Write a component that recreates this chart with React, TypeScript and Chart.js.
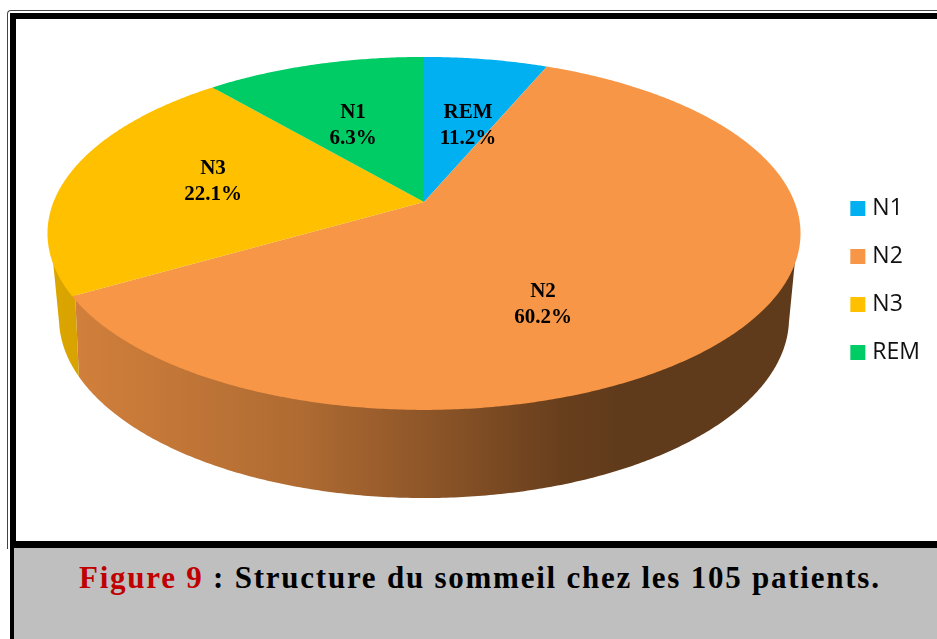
import React, { useEffect, useRef } from "react";
import { Chart, registerables } from "chart.js";

Chart.register(...registerables);

// ---- data ----
const categories = ["N1", "N2", "N3", "REM"];
const sleepShare = [6.3, 60.2, 22.1, 11.2];
const sliceColors = ["#00B0F0", "#F79646", "#FFC000", "#00CC66"];
// Text printed on each slice in the source figure (it does not follow the legend for N1/REM).
const sliceLabelNames = ["REM", "N2", "N3", "N1"];
const sliceLabelValues = ["11.2%", "60.2%", "22.1%", "6.3%"];

// ---- style / geometry (page pixels) ----
const CANVAS_LEFT = 16;
const CANVAS_TOP = 19;
const CANVAS_W = 921;
const CANVAS_H = 521;
const CENTER_X = 424;
const TOP_FACE = { apexY: 202, a: 170.9, c: 0.178, d: 370.5 };
const BOTTOM_FACE = { apexY: 280.2, a: 172.1, c: 0.21, d: 356.9 };
const LABEL_ANCHORS = [
  [468, 126],
  [543, 304.5],
  [213, 182],
  [353, 126],
];
// wall light falloff along the page x axis: [x, brightness]
const WALL_SHADE = [
  [60, 0.86],
  [300, 0.71],
  [430, 0.57],
  [560, 0.42],
  [620, 0.39],
  [800, 0.39],
];

type Face = typeof TOP_FACE;

function project(face: Face, theta: number, r = 1) {
  const u = Math.sin(theta) * r;
  const v = Math.cos(theta) * r;
  const w = 1 + face.c * v;
  return { x: CENTER_X + (face.d * u) / w - CANVAS_LEFT, y: face.apexY - (face.a * v) / w - CANVAS_TOP };
}

function shaded(hex: string, k: number) {
  const n = parseInt(hex.slice(1), 16);
  return `rgb(${Math.round(((n >> 16) & 255) * k)},${Math.round(((n >> 8) & 255) * k)},${Math.round((n & 255) * k)})`;
}

const pie3d = {
  id: "pie3d",
  beforeDatasetDraw(chart: any) {
    const { ctx } = chart;
    const arcs = chart.getDatasetMeta(0).data;
    const step = Math.PI / 360;
    const wallFrom = 0.7;
    const wallTo = 2 * Math.PI - 0.7;
    ctx.save();
    arcs.forEach((arc: any, i: number) => {
      const from = Math.max(arc.startAngle + Math.PI / 2, wallFrom);
      const to = Math.min(arc.endAngle + Math.PI / 2, wallTo);
      if (to <= from) return;
      const x0 = WALL_SHADE[0][0];
      const x1 = WALL_SHADE[WALL_SHADE.length - 1][0];
      const g = ctx.createLinearGradient(x0 - CANVAS_LEFT, 0, x1 - CANVAS_LEFT, 0);
      WALL_SHADE.forEach(([x, k]) => g.addColorStop((x - x0) / (x1 - x0), shaded(sliceColors[i], k)));
      ctx.beginPath();
      for (let t = from; t < to; t += step) {
        const e = Math.min(t + step, to);
        // union of equally-wound quads, so the wall is one seamless fill
        const quad = [
          project(TOP_FACE, t, 0.992),
          project(TOP_FACE, e, 0.992),
          project(BOTTOM_FACE, e),
          project(BOTTOM_FACE, t),
        ];
        let area = 0;
        quad.forEach((p, k) => {
          const q = quad[(k + 1) % 4];
          area += p.x * q.y - q.x * p.y;
        });
        if (area < 0) quad.reverse();
        quad.forEach((p, k) => (k ? ctx.lineTo(p.x, p.y) : ctx.moveTo(p.x, p.y)));
        ctx.closePath();
      }
      ctx.fillStyle = g;
      ctx.fill();
    });
    arcs.forEach((arc: any, i: number) => {
      const from = arc.startAngle + Math.PI / 2;
      const to = arc.endAngle + Math.PI / 2;
      const apex = project(TOP_FACE, 0, 0);
      ctx.beginPath();
      ctx.moveTo(apex.x, apex.y);
      for (let t = from; t < to; t += step) {
        const p = project(TOP_FACE, t);
        ctx.lineTo(p.x, p.y);
      }
      const end = project(TOP_FACE, to);
      ctx.lineTo(end.x, end.y);
      ctx.closePath();
      ctx.fillStyle = sliceColors[i];
      ctx.fill();
    });
    ctx.font = "bold 21px 'Liberation Serif'";
    ctx.fillStyle = "#000";
    ctx.textAlign = "center";
    ctx.textBaseline = "middle";
    arcs.forEach((_: any, i: number) => {
      const [x, y] = LABEL_ANCHORS[i];
      ctx.fillText(sliceLabelNames[i], x - CANVAS_LEFT, y - 13 - CANVAS_TOP);
      ctx.fillText(sliceLabelValues[i], x - CANVAS_LEFT, y + 13 - CANVAS_TOP);
    });
    ctx.restore();
    return false;
  },
};

const box = (s: React.CSSProperties): React.CSSProperties => ({ position: "absolute", ...s });

export default function App() {
  const ref = useRef<HTMLCanvasElement>(null);
  useEffect(() => {
    document.body.style.margin = "0";
    document.body.style.overflow = "hidden";
    const chart = new Chart(ref.current!, {
      type: "pie",
      data: {
        labels: categories,
        datasets: [{ data: sleepShare, backgroundColor: sliceColors, borderWidth: 0 }],
      },
      plugins: [pie3d],
      options: {
        responsive: false,
        animation: false,
        events: [],
        layout: { padding: { right: 7, top: 2 } },
        plugins: {
          tooltip: { enabled: false },
          legend: {
            position: "right",
            labels: {
              font: { family: "'Open Sans'", size: 23 },
              color: "#111",
              usePointStyle: true,
              pointStyle: "rect",
              boxWidth: 6,
              boxHeight: 15,
              padding: 25,
            },
          },
        },
      },
    } as any);
    return () => chart.destroy();
  }, []);
  return (
    <div style={{ position: "absolute", left: 0, top: 0, width: 937, height: 639, overflow: "hidden", background: "#fff" }}>
      <div style={box({ left: 7, top: 10, right: -10, height: 538, borderLeft: "1.5px solid #444", borderTop: "1.5px solid #444", borderTopLeftRadius: 4 })} />
      <div style={box({ left: 10, top: 13, right: 0, height: 6, background: "#000" })} />
      <div style={box({ left: 10, top: 13, width: 5.5, height: 626, background: "#000" })} />
      <div style={box({ left: 10, top: 541, right: 0, height: 7, background: "#000" })} />
      <div style={box({ left: 14, top: 548, right: 0, bottom: 0, background: "#BFBFBF" })} />
      <div
        style={box({
          left: 79,
          top: 559,
          whiteSpace: "nowrap",
          fontFamily: "'Liberation Serif', serif",
          fontWeight: "bold",
          fontSize: 31,
          lineHeight: "38px",
          letterSpacing: 1.76,
          color: "#000",
        })}
      >
        <span style={{ color: "#C00000" }}>Figure 9</span> : Structure du sommeil chez les 105 patients.
      </div>
      <canvas ref={ref} width={CANVAS_W} height={CANVAS_H} style={box({ left: CANVAS_LEFT, top: CANVAS_TOP })} />
    </div>
  );
}
